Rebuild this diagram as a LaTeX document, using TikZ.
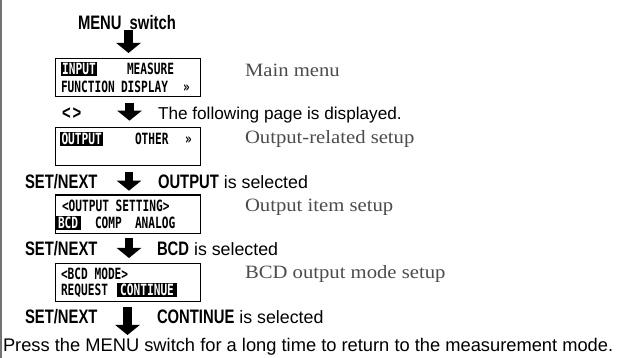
\documentclass[tikz,border=0pt]{standalone}
\usepackage{fontspec}
\setmainfont{Liberation Sans}
\newfontfamily\condbf[FakeStretch=0.76]{Liberation Sans}
\newfontfamily\lcdfont[FakeStretch=0.72]{DejaVu Sans Mono}
\newfontfamily\seriff[FakeStretch=1.1]{Liberation Serif}
\usetikzlibrary{arrows.meta}
\begin{document}
\begin{tikzpicture}[x=1pt,y=-1pt,
  every node/.style={inner sep=0pt, outer sep=0pt},
  boldt/.style={anchor=base west, font=\condbf\bfseries\fontsize{19.5}{21}\selectfont},
  plaint/.style={anchor=base west, font=\fontsize{17.8}{20}\selectfont},
  notet/.style={anchor=base west, text=black!70, font=\seriff\fontsize{18.8}{20}\selectfont},
  lcd/.style={anchor=base west, font=\lcdfont\bfseries\fontsize{15.5}{16}\selectfont},
  hl/.style={lcd, fill=black, text=white, inner xsep=1.5pt, text height=12.8pt, text depth=1pt},
  lcdbox/.style={draw=black, line width=1.2pt, minimum width=145pt, minimum height=38.3pt, anchor=north west},
  bigarrow/.style={line width=8.5pt, -{Triangle[width=24pt,length=10pt]}},
]
\useasboundingbox (0,0) rectangle (622,358);
\fill[white] (0,0) rectangle (622,358);
\draw[black!55, line width=1.5pt] (1,0) -- (1,358);

% top label
\node[boldt] (menu) at (78,29.5) {MENU\hspace{4pt} switch};
\coordinate (a1s) at (128.5,30);
\coordinate (a1e) at (128.5,53);
\draw[bigarrow] (a1s) -- (a1e);

% box 1
\node[lcdbox] (b1) at (55.5,58.3) {};
\node[hl] (b1w1) at (60.7,75) {INPUT};
\node[lcd] (b1w2) at (127,75) {MEASURE};
\node[lcd] (b1w3) at (61,92.3) {FUNCTION};
\node[lcd] (b1w4) at (121,92.3) {DISPLAY};
\node[lcd] (b1w5) at (183,92.3) {»};
\node[notet] (n1) at (245,76.5) {Main menu};

% row 2
\node[boldt] (lr) at (62,119.3) {<\kern2pt>};
\coordinate (a2s) at (129.5,102.7);
\coordinate (a2e) at (129.5,120.7);
\draw[bigarrow] (a2s) -- (a2e);
\node[plaint, font=\fontsize{17.2}{20}\selectfont] (t2) at (158,119.3) {The following page is displayed.};

% box 2
\node[lcdbox] (b2) at (55.5,127.3) {};
\node[hl] (b2w1) at (60,145) {OUTPUT};
\node[lcd] (b2w2) at (135,145) {OTHER};
\node[lcd] (b2w3) at (185,145) {»};
\node[notet] (n2) at (245,144) {Output-related setup};

% row 3
\node[boldt] (s3) at (25,188.3) {SET/NEXT};
\coordinate (a3s) at (129,171.7);
\coordinate (a3e) at (129,190.7);
\draw[bigarrow] (a3s) -- (a3e);
\node[plaint] (t3) at (158,188.3) {{\condbf\bfseries\fontsize{19.5}{21}\selectfont OUTPUT} is selected};

% box 3
\node[lcdbox] (b3) at (55.5,195) {};
\node[lcd] (b3w1) at (62,211.5) {<OUTPUT SETTING>};
\node[hl, inner xsep=3pt] (b3w2) at (55,229) {BCD};
\node[lcd] (b3w3) at (95,229) {COMP};
\node[lcd] (b3w4) at (135,229) {ANALOG};
\node[notet] (n3) at (245,211.5) {Output item setup};

% row 4
\node[boldt] (s4) at (25,256) {SET/NEXT};
\coordinate (a4s) at (129,238.5);
\coordinate (a4e) at (129,258);
\draw[bigarrow] (a4s) -- (a4e);
\node[plaint] (t4) at (157,256) {{\condbf\bfseries\fontsize{19.5}{21}\selectfont BCD} is selected};

% box 4
\node[lcdbox] (b4) at (55.5,263.3) {};
\node[lcd] (b4w1) at (61,280) {<BCD MODE>};
\node[lcd] (b4w2) at (61,296) {REQUEST};
\node[hl, inner xsep=3.5pt] (b4w3) at (116.7,296) {CONTINUE};
\node[notet] (n4) at (245,278.5) {BCD output mode setup};

% row 5
\node[boldt] (s5) at (25,323.3) {SET/NEXT};
\coordinate (a5s) at (127.5,307);
\coordinate (a5e) at (127.5,335);
\draw[bigarrow] (a5s) -- (a5e);
\node[plaint] (t5) at (157,323.3) {{\condbf\bfseries\fontsize{19.5}{21}\selectfont CONTINUE} is selected};

% bottom
\node[plaint, font=\fontsize{18.3}{20}\selectfont] (bot) at (3,351.7) {Press the MENU switch for a long time to return to the measurement mode.};
\end{tikzpicture}
\end{document}
